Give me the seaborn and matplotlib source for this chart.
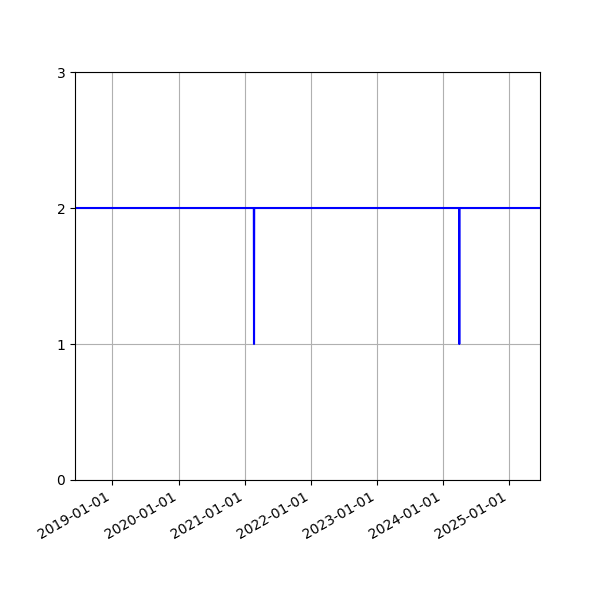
import matplotlib
matplotlib.use("Agg")
import matplotlib.pyplot as plt
import matplotlib.dates as mdates
import seaborn as sns
import pandas as pd

dates = ["2018-06-08", "2021-02-20", "2021-02-21", "2021-02-22",
         "2024-03-30", "2024-03-31", "2024-04-01", "2025-06-20"]
values = [2, 2, 1, 2, 2, 1, 2, 2]

df = pd.DataFrame({"date": pd.to_datetime(dates), "value": values})

fig, ax = plt.subplots(figsize=(6, 6), dpi=100)
sns.lineplot(data=df, x="date", y="value", color="blue", ax=ax, linewidth=1.5)
ax.set_xlim(df["date"].min(), df["date"].max())
ax.set_ylim(0, 3)
ax.set_yticks([0, 1, 2, 3])
ax.xaxis.set_major_locator(mdates.YearLocator())
ax.xaxis.set_major_formatter(mdates.DateFormatter("%Y-%m-%d"))
ax.set_xlabel("")
ax.set_ylabel("")
ax.grid(True)
fig.autofmt_xdate()
fig.savefig("out.png", dpi=100)
